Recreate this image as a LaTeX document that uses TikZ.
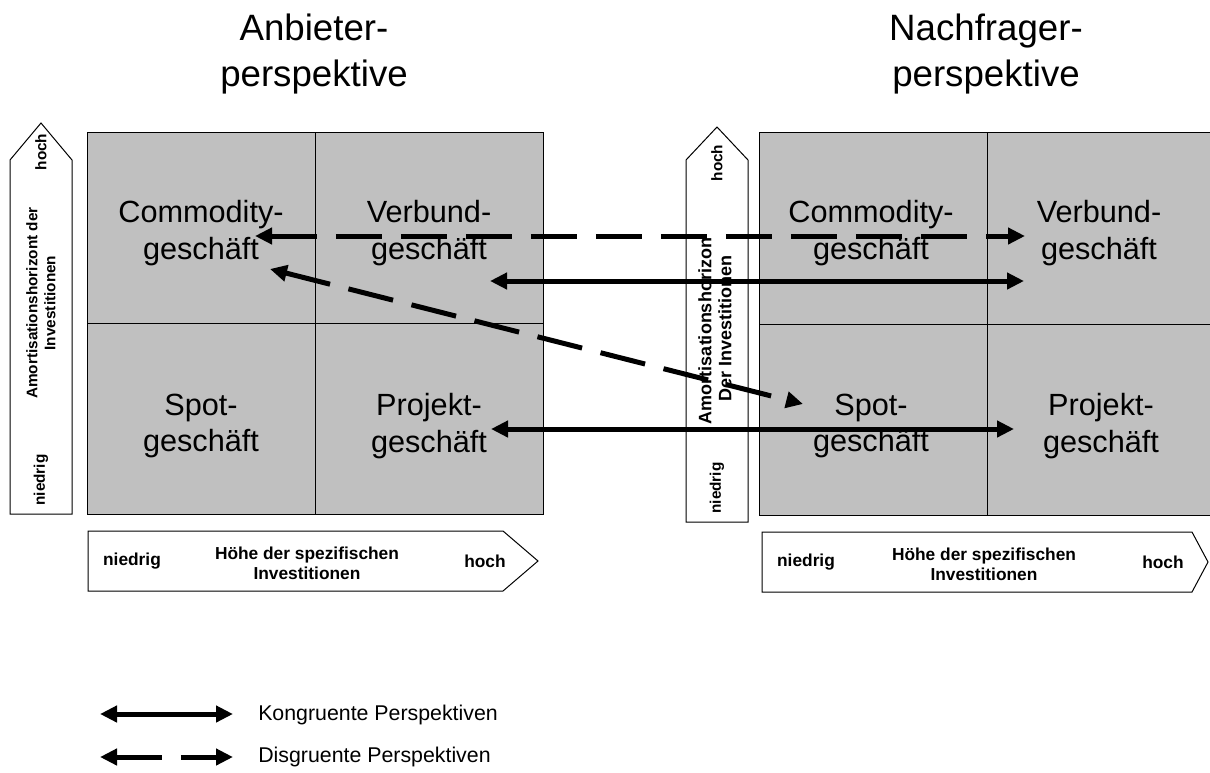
\documentclass[tikz,border=0pt]{standalone}
\usepackage{fontspec}
\setmainfont{Liberation Sans}
\usetikzlibrary{arrows.meta}
\definecolor{cellgray}{HTML}{C0C0C0}
\begin{document}
\begin{tikzpicture}[x=0.75pt,y=-0.75pt,
  cell/.style={draw=black,line width=0.75pt,fill=cellgray,minimum width=171pt,
    minimum height=143.6pt,inner sep=0pt},
  celltext/.style={align=center,inner sep=0pt,font=\fontsize{23}{27.5}\selectfont},
  title/.style={align=center,inner sep=0pt,font=\fontsize{27.5}{34}\selectfont},
  axisbox/.style={draw=black,line width=0.75pt,fill=white},
  axislbl/.style={font=\bfseries\fontsize{13}{15}\selectfont,align=center,inner sep=0pt},
  vlbl/.style={font=\bfseries\fontsize{11.5}{13.5}\selectfont,align=center,inner sep=0pt,rotate=90},
  link/.style={line width=3.75pt,
    {Triangle[length=12.75pt,width=12pt]}-{Triangle[length=12.75pt,width=12pt]}},
  linkdash/.style={link,dash pattern=on 34.5pt off 14.25pt},
  legend/.style={anchor=west,font=\fontsize{16}{19}\selectfont,inner sep=0pt}
]
\useasboundingbox (0,0) rectangle (1210,772);
\clip (0,0) rectangle (1210,772);

% headings
\node[title] (tleft)  at (314,54) {Anbieter-\\perspektive};
\node[title] (tright) at (986,54) {Nachfrager-\\perspektive};

% supplier matrix
\node[cell] (lc) at (201,227.75) {};
\node[cell] (lv) at (429,227.75) {};
\node[cell] (ls) at (201,419.25) {};
\node[cell] (lp) at (429,419.25) {};
\node[celltext] (lct) at (201,233) {Commodity-\\geschäft};
\node[celltext] (lvt) at (429,233) {Verbund-\\geschäft};
\node[celltext] (lst) at (201,426) {Spot-\\geschäft};
\node[celltext] (lpt) at (429,426) {Projekt-\\geschäft};

% customer matrix
\node[cell] (rc) at (873,228.5) {};
\node[cell] (rv) at (1101,228.5) {};
\node[cell] (rs) at (873,420) {};
\node[cell] (rp) at (1101,420) {};
\node[celltext] (rct) at (871,233) {Commodity-\\geschäft};
\node[celltext] (rvt) at (1099,233) {Verbund-\\geschäft};
\node[celltext] (rst) at (871,426) {Spot-\\geschäft};
\node[celltext] (rpt) at (1101,426) {Projekt-\\geschäft};

% vertical axis, left
\draw[axisbox] (10,514) -- (10,160) -- (41,123) -- (72,160) -- (72,514) -- cycle;
\node[vlbl] (lhoch) at (41,152) {hoch};
\node[vlbl] (lamort) at (41,303) {Amortisationshorizont der\\Investitionen};
\node[vlbl] (lniedrig) at (41,480) {niedrig};

% vertical axis, right
\draw[axisbox] (686,522) -- (686,160) -- (717,127) -- (748,160) -- (748,522) -- cycle;
\node[vlbl] (rhoch) at (717,163) {hoch};
\begin{scope}
  \clip (686,236) rectangle (748,522);
  \node[vlbl,font=\bfseries\fontsize{13.5}{15}\selectfont] (ramort) at (715,328)
    {Amortisationshorizont\\Der Investitionen};
\end{scope}
\node[vlbl] (rniedrig) at (717,488) {niedrig};

% horizontal axis, left
\draw[axisbox] (88,531) -- (503,531) -- (538,561) -- (503,591) -- (88,591) -- cycle;
\node[axislbl] (lxn) at (132,561) {niedrig};
\node[axislbl] (lxt) at (307,563) {Höhe der spezifischen\\Investitionen};
\node[axislbl] (lxh) at (485,561) {hoch};

% horizontal axis, right
\draw[axisbox] (762,532) -- (1192,532) -- (1208,562) -- (1192,592) -- (762,592) -- cycle;
\node[axislbl] (rxn) at (806,562) {niedrig};
\node[axislbl] (rxt) at (984,564) {Höhe der spezifischen\\Investitionen};
\node[axislbl] (rxh) at (1163,562) {hoch};

% links between the two perspectives
\coordinate (dA1) at (255,236);
\coordinate (dA2) at (1025,236);
\coordinate (sB1) at (490,281);
\coordinate (sB2) at (1024,281);
\coordinate (sC1) at (491,429);
\coordinate (sC2) at (1014,429);
\coordinate (dD1) at (270,269);
\coordinate (dD2) at (803,404);
\draw[linkdash] (dA1) -- (dA2);
\draw[link] (sB1) -- (sB2);
\draw[link] (sC1) -- (sC2);
\draw[linkdash] (dD1) -- (dD2);

% legend
\coordinate (k1) at (100,714);
\coordinate (k2) at (233,714);
\coordinate (g1) at (100,757);
\coordinate (g2) at (233,757);
\draw[link] (k1) -- (k2);
\draw[linkdash] (g1) -- (g2);
\node[legend] (lk) at (258,715) {Kongruente Perspektiven};
\node[legend] (lg) at (258,757) {Disgruente Perspektiven};
\end{tikzpicture}
\end{document}
